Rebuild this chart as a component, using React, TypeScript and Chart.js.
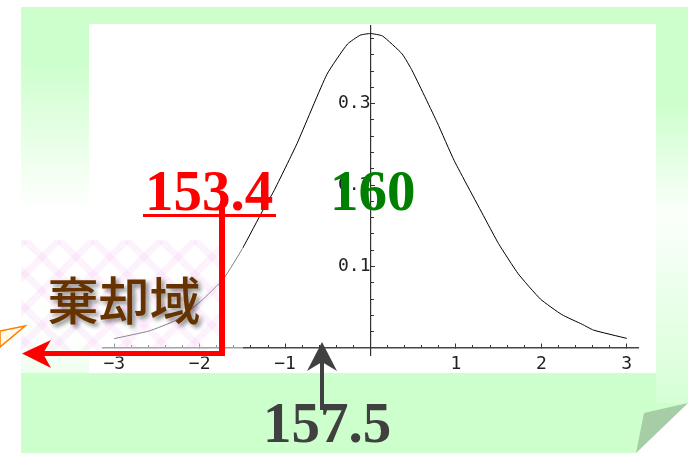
import React, { useEffect, useRef } from "react";
import { Chart, registerables } from "chart.js";

Chart.register(...registerables);

// ---- data ----
const curveX = [-3.0, -2.59, -2.28, -1.99, -1.72, -1.5, -1.25, -1.13, -0.86, -0.51, -0.27, -0.12, 0, 0.14, 0.37, 0.49, 0.78, 0.98, 1.35, 1.5, 1.73, 1.99, 2.24, 2.48, 2.61, 3.0];
const curveY = [0.0115, 0.021, 0.034, 0.057, 0.085, 0.122, 0.171, 0.193, 0.251, 0.336, 0.373, 0.384, 0.386, 0.383, 0.361, 0.34, 0.277, 0.23, 0.157, 0.128, 0.091, 0.06, 0.041, 0.029, 0.022, 0.0118];

const xMajorTicks = [-3, -2, -1, 1, 2, 3];
const xTickLabels = ["\u22123", "\u22122", "\u22121", "1", "2", "3"];
const xMinorTicks = [-2.8, -2.6, -2.4, -2.2, -1.8, -1.6, -1.4, -1.2, -0.8, -0.6, -0.4, -0.2, 0.2, 0.4, 0.6, 0.8, 1.2, 1.4, 1.6, 1.8, 2.2, 2.4, 2.6, 2.8];
const yMajorTicks = [0.1, 0.2, 0.3];
const yTickLabels = ["0.1", "0.2", "0.3"];
const yMinorTicks = [0.02, 0.04, 0.06, 0.08, 0.12, 0.14, 0.16, 0.18, 0.22, 0.24, 0.26, 0.28, 0.32, 0.34, 0.36, 0.38];

const X_MIN = -3.132;
const X_MAX = 3.132;
const Y_MIN = -0.0086;
const Y_MAX = 0.3955;

const lowerLabel = "153.4";
const centerLabel = "160";
const criticalLabel = "157.5";
const regionLabel = "棄却域";

const W = 695;
const H = 453;

Chart.defaults.font.family = "DejaVu Sans Mono";
Chart.defaults.font.size = 18;

function barbedArrow(ctx: CanvasRenderingContext2D, pts: number[][], color: string) {
  ctx.beginPath();
  ctx.moveTo(pts[0][0], pts[0][1]);
  for (let i = 1; i < pts.length; i++) ctx.lineTo(pts[i][0], pts[i][1]);
  ctx.closePath();
  ctx.fillStyle = color;
  ctx.fill();
}

const backgroundPlugin = {
  id: "slideBackground",
  beforeDraw(chart: any) {
    const ctx: CanvasRenderingContext2D = chart.ctx;
    ctx.save();
    ctx.fillStyle = "#ffffff";
    ctx.fillRect(0, 0, W, H);
    // green sheet with folded corner
    ctx.beginPath();
    ctx.moveTo(21, 7);
    ctx.lineTo(688, 7);
    ctx.lineTo(688, 403);
    ctx.lineTo(636, 453);
    ctx.lineTo(21, 453);
    ctx.closePath();
    ctx.fillStyle = "#ccffcc";
    ctx.fill();
    // left strip fade
    let g = ctx.createLinearGradient(0, 24, 0, 373);
    g.addColorStop(0, "#ccffcc");
    g.addColorStop(0.1, "#ccffcc");
    g.addColorStop(0.53, "#ffffff");
    g.addColorStop(0.9, "#fbfffb");
    g.addColorStop(1, "#eefeee");
    ctx.fillStyle = g;
    ctx.fillRect(21, 24, 68, 349);
    // right strip fade
    g = ctx.createLinearGradient(0, 24, 0, 403);
    g.addColorStop(0, "#ccffcc");
    g.addColorStop(0.2, "#ccffcc");
    g.addColorStop(0.5, "#fbfffb");
    g.addColorStop(1, "#d6ffd6");
    ctx.fillStyle = g;
    ctx.fillRect(656, 24, 32, 379);
    // white plot panel
    ctx.fillStyle = "#ffffff";
    ctx.fillRect(89, 24, 567, 349);
    // folded corner
    ctx.beginPath();
    ctx.moveTo(644, 413);
    ctx.lineTo(688, 403);
    ctx.lineTo(636, 453);
    ctx.closePath();
    ctx.fillStyle = "#a6cda6";
    ctx.fill();
    ctx.restore();
  },
};

const annotationPlugin = {
  id: "slideAnnotations",
  afterDraw(chart: any) {
    const ctx: CanvasRenderingContext2D = chart.ctx;
    ctx.save();
    // translucent veil over the rejection region
    ctx.fillStyle = "rgba(255,255,255,0.5)";
    ctx.fillRect(89, 240, 154, 117);
    ctx.fillStyle = "rgba(255,255,255,0.5)";
    ctx.fillRect(21, 240, 68, 110);
    // pale pink trellis
    ctx.save();
    ctx.beginPath();
    ctx.rect(21, 240, 201, 110);
    ctx.clip();
    ctx.strokeStyle = "rgba(240,170,240,0.14)";
    ctx.lineWidth = 7;
    for (let k = -200; k < 400; k += 34) {
      ctx.beginPath();
      ctx.moveTo(21 + k, 240);
      ctx.lineTo(21 + k + 130, 370);
      ctx.stroke();
      ctx.beginPath();
      ctx.moveTo(21 + k, 240);
      ctx.lineTo(21 + k - 130, 370);
      ctx.stroke();
    }
    ctx.restore();

    // region label with shadow
    ctx.save();
    ctx.font = "500 51px 'Noto Sans CJK JP'";
    ctx.textAlign = "center";
    ctx.textBaseline = "alphabetic";
    ctx.shadowColor = "rgba(0,0,0,0.45)";
    ctx.shadowOffsetX = 3;
    ctx.shadowOffsetY = 3;
    ctx.shadowBlur = 4;
    ctx.fillStyle = "#663300";
    ctx.fillText(regionLabel, 124, 320);
    ctx.restore();

    // orange callout fragment
    ctx.beginPath();
    ctx.moveTo(25, 326);
    ctx.lineTo(0, 331);
    ctx.lineTo(0, 347);
    ctx.closePath();
    ctx.fillStyle = "#fffbe8";
    ctx.fill();
    ctx.strokeStyle = "#ff7f00";
    ctx.lineWidth = 1.5;
    ctx.stroke();

    // red arrow
    ctx.fillStyle = "#ff0000";
    ctx.fillRect(219, 208, 6, 148);
    ctx.fillRect(42, 351, 183, 5);
    barbedArrow(ctx, [[22, 353.5], [51, 340], [43, 353.5], [51, 368]], "#ff0000");

    // dark arrow
    ctx.fillStyle = "#404040";
    ctx.fillRect(320, 360, 4, 50);
    barbedArrow(ctx, [[322, 342], [337, 371], [322, 362], [307, 371]], "#404040");

    // numbers
    ctx.font = "bold 57px 'Liberation Serif'";
    ctx.textAlign = "left";
    ctx.textBaseline = "alphabetic";
    ctx.fillStyle = "#ff0000";
    ctx.fillText(lowerLabel, 145, 210);
    ctx.fillRect(143, 214, 133, 3);
    ctx.fillStyle = "#008000";
    ctx.fillText(centerLabel, 330, 210);
    ctx.fillStyle = "#404040";
    ctx.fillText(criticalLabel, 263, 442);
    ctx.restore();
  },
};

const tickFont = { family: "DejaVu Sans Mono", size: 18, style: "normal" as const, weight: "normal" as const, lineHeight: 1.2 };

export default function App() {
  const ref = useRef<HTMLCanvasElement | null>(null);
  useEffect(() => {
    if (!ref.current) return;
    const points = curveX.map((x, i) => ({ x, y: curveY[i] }));
    const chart = new Chart(ref.current, {
      type: "line",
      data: {
        datasets: [
          {
            data: points,
            borderColor: "#000000",
            borderWidth: 1,
            pointRadius: 0,
            tension: 0.15,
            fill: false,
          },
        ],
      },
      options: {
        responsive: false,
        animation: false,
        devicePixelRatio: 1,
        events: [],
        layout: { autoPadding: false, padding: { left: 103, right: 57, top: 25, bottom: 98 } },
        plugins: { legend: { display: false }, tooltip: { enabled: false }, title: { display: false } },
        scales: {
          x: {
            type: "linear",
            axis: "x",
            min: X_MIN,
            max: X_MAX,
            position: { y: 0 },
            afterFit: (s: any) => { s.height = 0; },
            afterBuildTicks: (s: any) => { s.ticks = xMajorTicks.map((v) => ({ value: v })); },
            grid: { display: true, drawOnChartArea: false, drawTicks: true, tickLength: -5, color: "#333333", lineWidth: 1 },
            border: { display: true, color: "#444444", width: 1.5 },
            ticks: { autoSkip: false, maxRotation: 0, padding: 11, color: "#222222", font: tickFont, callback: (_v: any, i: number) => xTickLabels[i] },
          },
          x2: {
            type: "linear",
            axis: "x",
            min: X_MIN,
            max: X_MAX,
            position: { y: 0 },
            afterFit: (s: any) => { s.height = 0; },
            afterBuildTicks: (s: any) => { s.ticks = xMinorTicks.map((v) => ({ value: v })); },
            grid: { display: true, drawOnChartArea: false, drawTicks: true, tickLength: -3, color: "#333333", lineWidth: 1 },
            border: { display: false },
            ticks: { autoSkip: false, maxRotation: 0, callback: () => "" },
          },
          y: {
            type: "linear",
            axis: "y",
            min: Y_MIN,
            max: Y_MAX,
            position: { x: 0 },
            afterFit: (s: any) => { s.width = 0; },
            afterBuildTicks: (s: any) => { s.ticks = yMajorTicks.map((v) => ({ value: v })); },
            grid: { display: true, drawOnChartArea: false, drawTicks: true, tickLength: -5, color: "#333333", lineWidth: 1 },
            border: { display: true, color: "#333333", width: 1.2 },
            ticks: { autoSkip: false, padding: 15, color: "#222222", font: tickFont, callback: (_v: any, i: number) => yTickLabels[i] },
          },
          y2: {
            type: "linear",
            axis: "y",
            min: Y_MIN,
            max: Y_MAX,
            position: { x: 0 },
            afterFit: (s: any) => { s.width = 0; },
            afterBuildTicks: (s: any) => { s.ticks = yMinorTicks.map((v) => ({ value: v })); },
            grid: { display: true, drawOnChartArea: false, drawTicks: true, tickLength: -3, color: "#333333", lineWidth: 1 },
            border: { display: false },
            ticks: { autoSkip: false, callback: () => "" },
          },
        },
      } as any,
      plugins: [backgroundPlugin, annotationPlugin],
    });
    return () => chart.destroy();
  }, []);
  return (
    <div style={{ position: "fixed", left: 0, top: 0, width: W, height: H, background: "#ffffff" }}>
      <canvas ref={ref} width={W} height={H} style={{ display: "block", width: W, height: H }} />
    </div>
  );
}
